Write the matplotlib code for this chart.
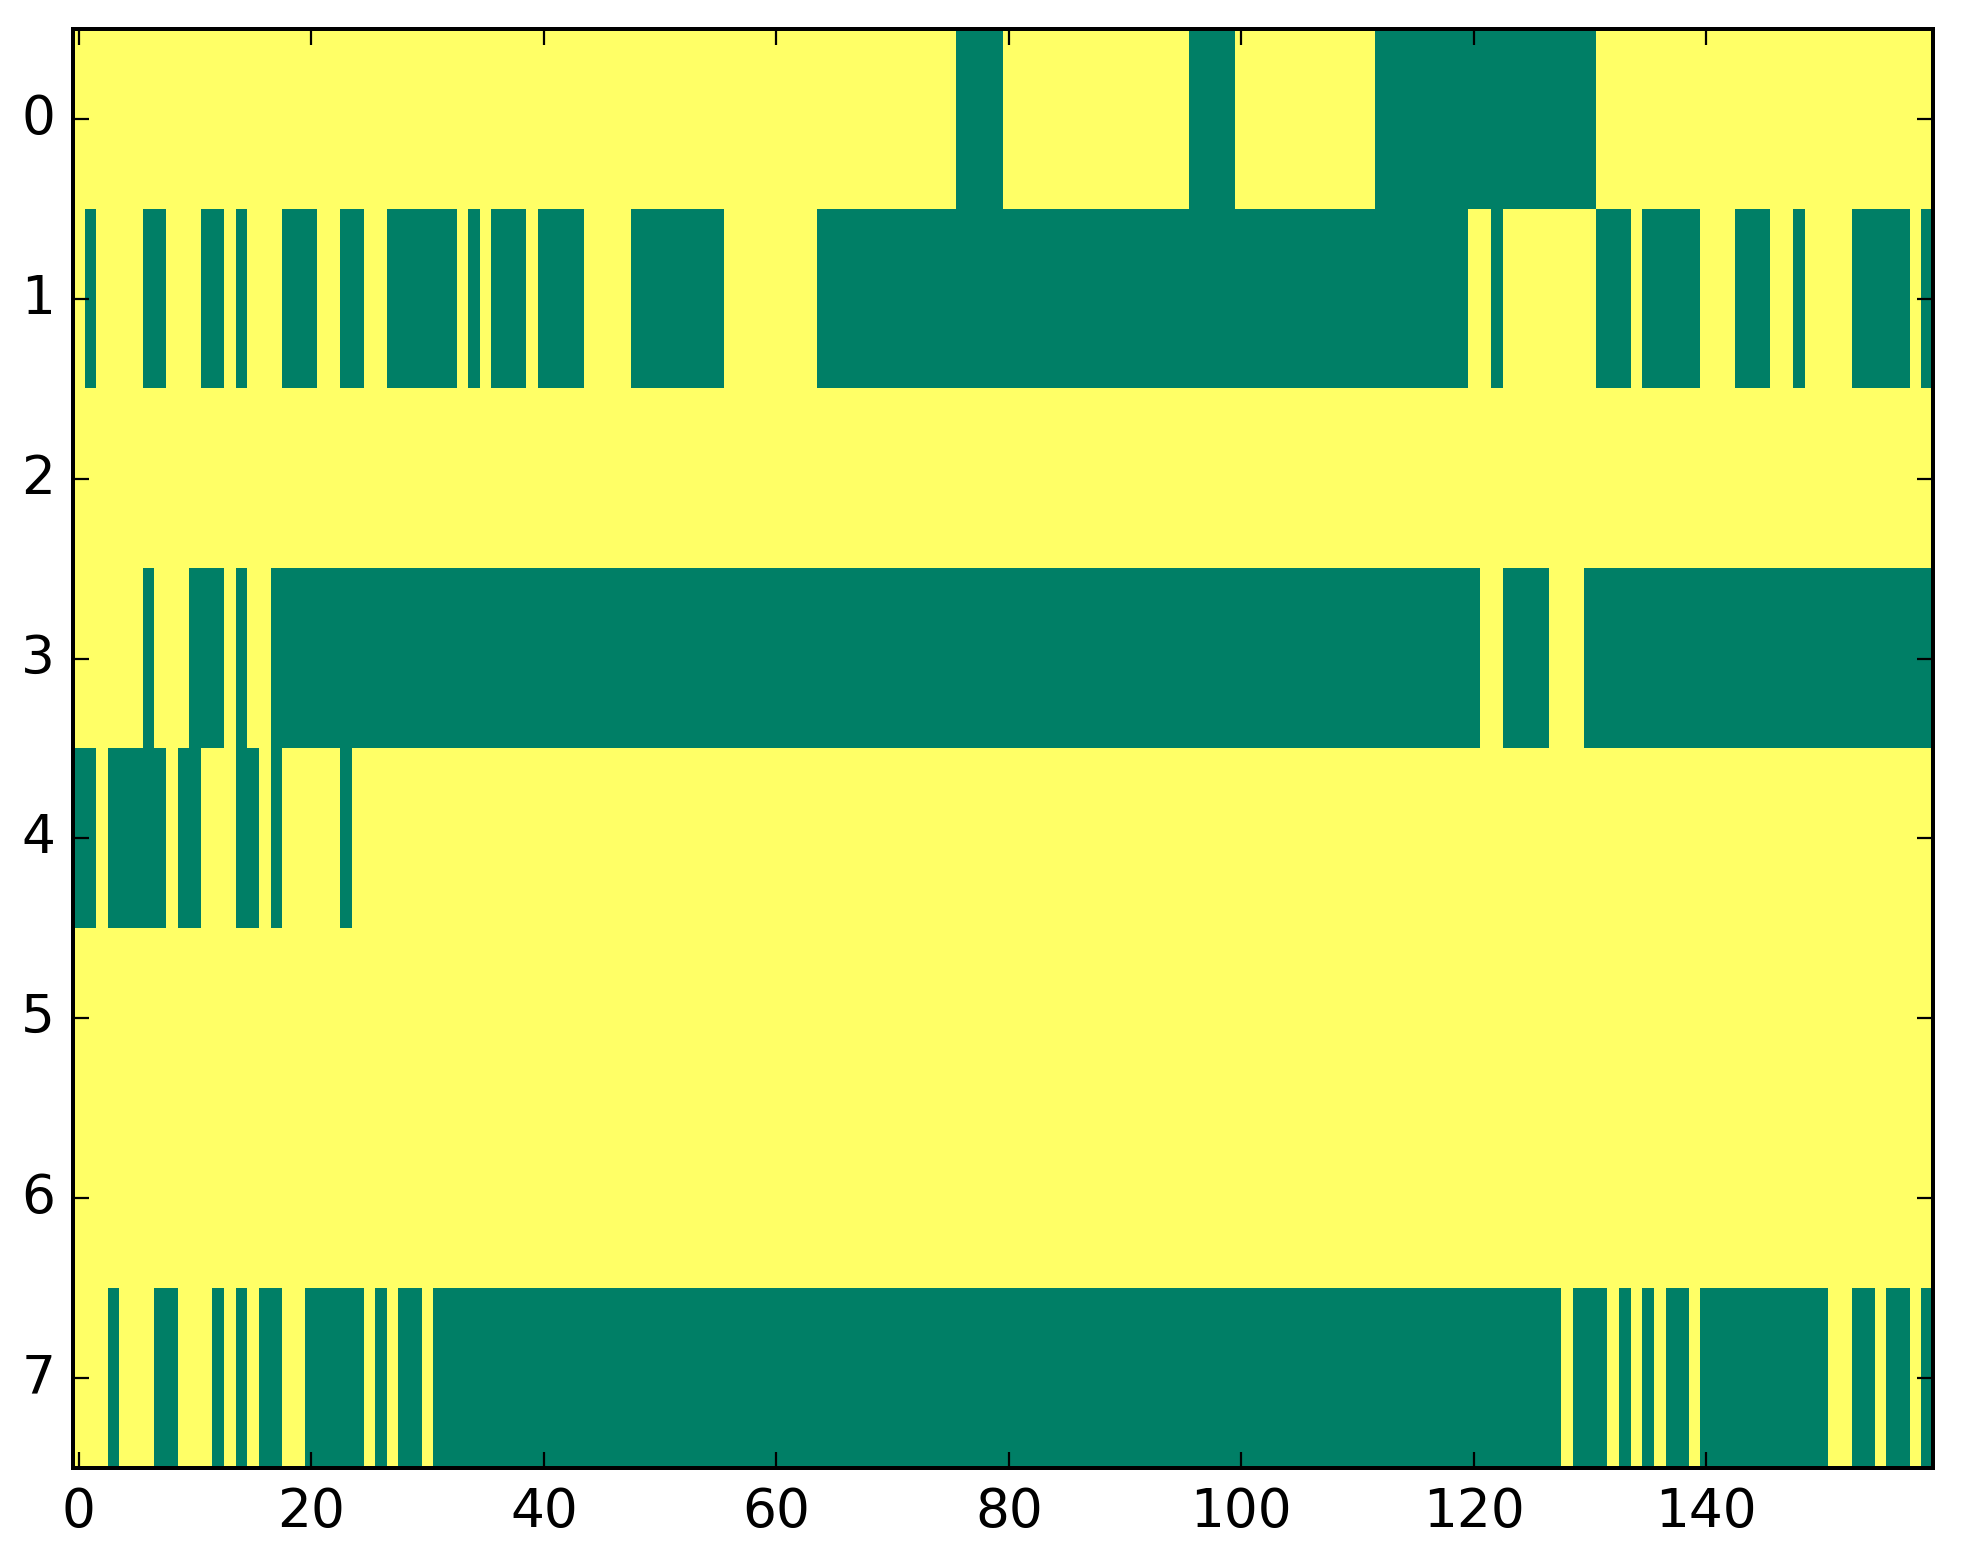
import numpy as np
import matplotlib
matplotlib.use('Agg')
import matplotlib.pyplot as plt

plt.style.use('classic')

ncols = 160
nrows = 8

# green cells (value 0) given as inclusive column runs, everything else is 1 (yellow)
runs_row0 = [(76, 79), (96, 99), (112, 130)]
runs_row1 = [(1, 1), (6, 7), (11, 12), (14, 14), (18, 20), (23, 24), (27, 32), (34, 34),
             (36, 38), (40, 43), (48, 55), (64, 119), (122, 122), (131, 133), (135, 139),
             (143, 145), (148, 148), (153, 157), (159, 159)]
runs_row2 = []
runs_row3 = [(6, 6), (10, 12), (14, 14), (17, 120), (123, 126), (130, 159)]
runs_row4 = [(0, 1), (3, 7), (9, 10), (14, 15), (17, 17), (23, 23)]
runs_row5 = []
runs_row6 = []
runs_row7 = [(3, 3), (7, 8), (12, 12), (14, 14), (16, 17), (20, 24), (26, 26), (28, 29),
             (31, 127), (129, 131), (133, 133), (135, 135), (137, 138), (140, 150),
             (153, 154), (156, 157), (159, 159)]

all_runs = [runs_row0, runs_row1, runs_row2, runs_row3,
            runs_row4, runs_row5, runs_row6, runs_row7]

xticks = [0, 20, 40, 60, 80, 100, 120, 140]
yticks = [0, 1, 2, 3, 4, 5, 6, 7]

data = np.ones((nrows, ncols))
for i in range(nrows):
    for a, b in all_runs[i]:
        data[i, a:b+1] = 0.

dpi = 320
fig = plt.figure(figsize=(1963./dpi, 1564./dpi), dpi=dpi)
fig.patch.set_facecolor('white')
ax = fig.add_axes([0.0372, 0.0614, 0.9475, 0.920])
ax.imshow(data, cmap='summer', interpolation='nearest', aspect='auto',
          vmin=0, vmax=1)
ax.set_xticks(xticks)
ax.set_yticks(yticks)
ax.set_xlim(-0.5, ncols-0.5)
ax.set_ylim(nrows-0.5, -0.5)
ax.tick_params(labelsize=12, length=3.5)
for s in ax.spines.values():
    s.set_linewidth(0.9)

fig.savefig('out.png', dpi=dpi, facecolor='white')
